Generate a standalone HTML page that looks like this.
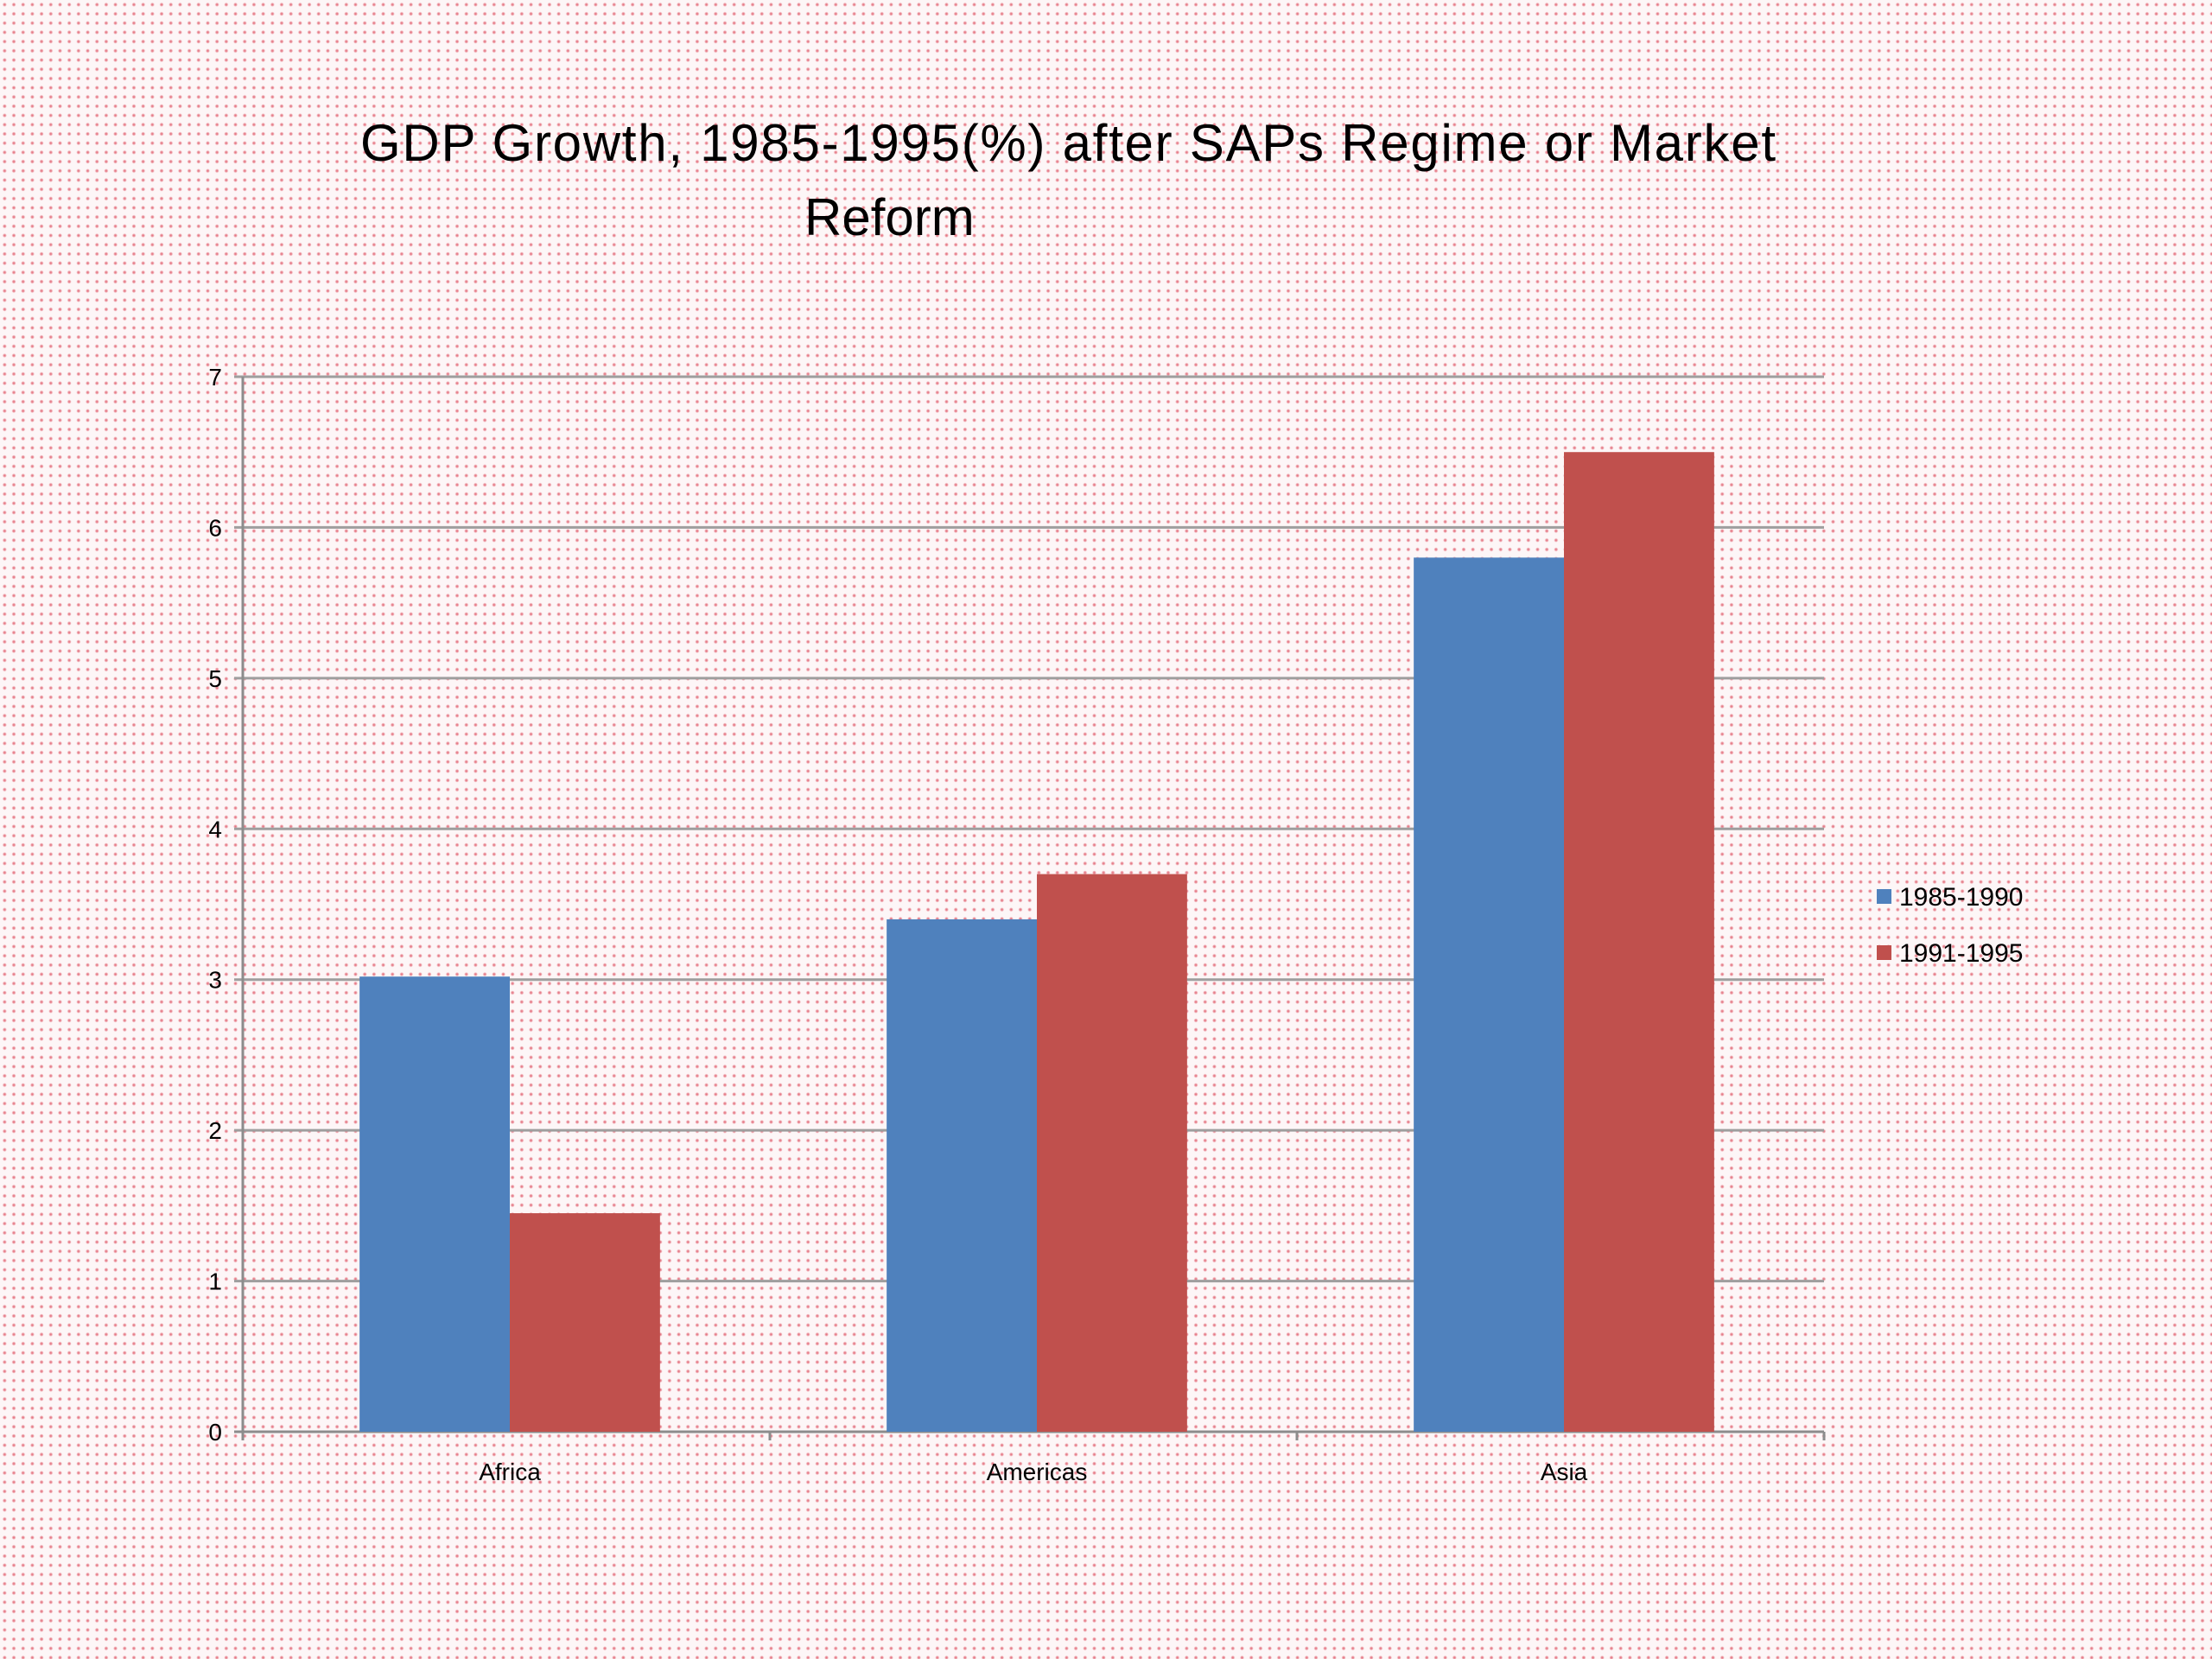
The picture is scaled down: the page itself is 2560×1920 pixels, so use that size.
<!DOCTYPE html>
<html><head><meta charset="utf-8"><style>
html,body{margin:0;padding:0}
body{width:2560px;height:1920px;overflow:hidden;background-color:#fdf6f7;
background-image:radial-gradient(circle at 50% 50%, rgba(214,40,60,0.7) 0px, rgba(214,40,60,0.4) 1.5px, rgba(255,255,255,0) 2.4px);
background-size:10.7px 10.7px;font-family:"Liberation Sans",sans-serif}
svg{position:absolute;left:0;top:0}
</style></head><body>
<svg id="chart" width="2560" height="1920" xmlns="http://www.w3.org/2000/svg">
<text x="1236" y="186" text-anchor="middle" font-family="Liberation Sans, sans-serif" font-size="60" textLength="1638" fill="#000">GDP Growth, 1985-1995(%) after SAPs Regime or Market</text>
<text x="931" y="272" font-family="Liberation Sans, sans-serif" font-size="60" fill="#000">Reform</text>
<g id="grid"></g><g id="bars"></g><g id="labels"></g>
<g>
<rect x="2172" y="1029" width="17" height="17" fill="#4f81bd"/>
<text x="2198" y="1048" font-size="30" fill="#000">1985-1990</text>
<rect x="2172" y="1094" width="17" height="17" fill="#c0504d"/>
<text x="2198" y="1113" font-size="30" fill="#000">1991-1995</text>
</g>
</svg>
<script>
const categories = ["Africa","Americas","Asia"];
const series1 = [3.02, 3.4, 5.8];
const series2 = [1.45, 3.7, 6.5];
const yTicks = [0,1,2,3,4,5,6,7];
const NS="http://www.w3.org/2000/svg";
const L=281,R=2111,T=436,B=1657,YMAX=7;
function y(v){return B-(v/YMAX)*(B-T);}
const gw=(R-L)/categories.length, bw=gw*0.285;
function gx(i){return L+gw*i+gw/2+4;}
function mk(tag,attrs,parent){const e=document.createElementNS(NS,tag);for(const k in attrs)e.setAttribute(k,attrs[k]);document.getElementById(parent).appendChild(e);return e;}
yTicks.forEach(t=>{
  const ln=mk("line",{x1:L-10,x2:R,y1:y(t),y2:y(t),stroke:t===0?"#8c8c8c":"#9e9e9e","stroke-width":3},"grid");
  
  
  const tx=mk("text",{x:L-24,y:y(t)+10,"text-anchor":"end","font-size":28,fill:"#000"},"labels");
  tx.textContent=t;
  
  
});
const ax=mk("line",{x1:L,x2:L,y1:T,y2:B,stroke:"#8c8c8c","stroke-width":3},"grid");


for(let i=0;i<=categories.length;i++){
  const tk=mk("line",{x1:L+gw*i,x2:L+gw*i,y1:B,y2:B+10,stroke:"#8c8c8c","stroke-width":3},"grid");
  
  
}
categories.forEach((c,i)=>{
  const cx=gx(i);
  const b1=mk("rect",{x:cx-bw,y:y(series1[i]),width:bw,height:B-y(series1[i]),fill:"#4f81bd"},"bars");
  
  
  const b2=mk("rect",{x:cx,y:y(series2[i]),width:bw,height:B-y(series2[i]),fill:"#c0504d"},"bars");
  
  
  const tx=mk("text",{x:cx,y:1713,"text-anchor":"middle","font-size":28,fill:"#000"},"labels");
  tx.textContent=c;
  
  
});
</script>
</body></html>
